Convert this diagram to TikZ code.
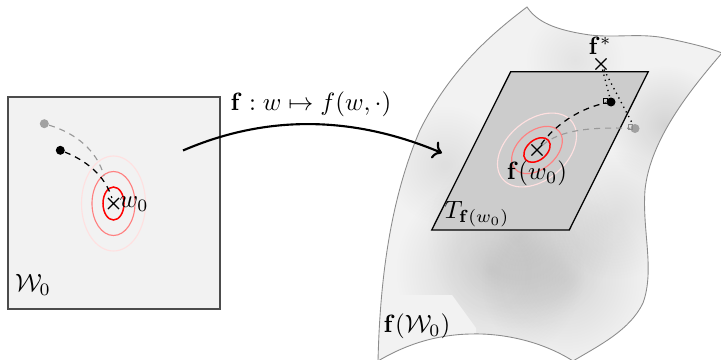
\documentclass[tikz,border=0pt]{standalone}
\usetikzlibrary{shapes.misc,fadings,arrows.meta}
\tikzfading[name=blobfade, inner color=transparent!0, outer color=transparent!100]
\newcommand{\surfpath}{(527,7) .. controls (537,22) and (555,30) .. (590,35) .. controls (615,38) and (640,33) .. (665,38) .. controls (690,43) and (710,48) .. (722,53) .. controls (690,90) and (650,140) .. (645,190) .. controls (642,230) and (655,270) .. (643,303) .. controls (630,330) and (600,345) .. (573,361) .. controls (540,340) and (500,333) .. (470,334) .. controls (430,335) and (400,348) .. (378,361) .. controls (380,280) and (390,200) .. (420,130) .. controls (450,70) and (490,35) .. (527,7) -- cycle}
\begin{document}
\begin{tikzpicture}[x=0.4pt,y=-0.4pt,
  blackdot/.style={circle, fill=black, inner sep=0pt, minimum size=3.6pt},
  graydot/.style={circle, fill=black!37, inner sep=0pt, minimum size=3.6pt},
  xmark/.style={draw, cross out, inner sep=0pt, minimum size=4pt, line width=0.45pt},
  blackdash/.style={dash pattern=on 2.4pt off 2pt, line width=0.5pt},
  graydash/.style={black!40, dash pattern=on 2.4pt off 2pt, line width=0.45pt},
  dotline/.style={dash pattern=on 0.5pt off 1.6pt, line width=0.55pt},
  lvl1/.style={red, line width=0.6pt},
  lvl2/.style={red!50, line width=0.45pt},
  lvl3/.style={red!12, line width=0.45pt},
  lbl/.style={inner sep=0pt},
  blob/.style={black, fill opacity=#1, path fading=blobfade}
]
\useasboundingbox (0,0) rectangle (721,360);

% ---------- left domain ----------
\draw[black!70, fill=black!5, line width=0.5pt] (8,97) rectangle (220,309);
\coordinate (w0) at (113.5,203.5);
\draw[lvl3] (w0) ellipse [x radius=32, y radius=47.5];
\draw[lvl2] (w0) ellipse [x radius=21.5, y radius=32];
\draw[lvl1] (w0) ellipse [x radius=10.5, y radius=16.5];
\node[graydot] (g1) at (44.3,123.7) {};
\node[blackdot] (b1) at (60.3,150.3) {};
\node[xmark] (w0x) at (w0) {};
\coordinate (g1end) at (104,176);
\draw[graydash] (g1) .. controls (75,133) and (97,150) .. (g1end);
\draw[blackdash] (b1) .. controls (85,160) and (105,175) .. (w0x);
\node[lbl, anchor=west] (w0lbl) at (119,204) {$w_0$};
\node[lbl] (Wlbl) at (33,285) {$\mathcal{W}_0$};

% ---------- right: image manifold ----------
\begin{scope}
  \clip \surfpath;
  \fill[black!5] (350,0) rectangle (730,370);
  \fill[blob=0.12] (490,270) circle [radius=95];
  \fill[blob=0.11] (565,280) circle [radius=85];
  \fill[blob=0.08] (520,235) circle [radius=95];
  \fill[blob=0.12] (665,125) circle [radius=60];
  \fill[blob=0.08] (445,165) circle [radius=60];
  \fill[blob=0.08] (615,215) circle [radius=65];
  \fill[blob=0.06] (575,60) circle [radius=50];
  \fill[black!5] (360,295) -- (452,295) -- (476,328) -- (476,370) -- (360,370) -- cycle;
\end{scope}
\draw[black!45, line width=0.35pt] \surfpath;

% tangent plane
\draw[fill=black!20, line width=0.5pt] (510.7,71.7) -- (648.3,71.7) -- (569.3,230) -- (431.7,230) -- cycle;
\coordinate (fw0c) at (537,150);
\begin{scope}[rotate around={40:(fw0c)}]
  \draw[lvl3] (fw0c) ellipse [x radius=45, y radius=30];
  \draw[lvl2] (fw0c) ellipse [x radius=29, y radius=19];
  \draw[lvl1] (fw0c) ellipse [x radius=15, y radius=10];
\end{scope}
\node[xmark] (fw0) at (fw0c) {};
\node[blackdot] (b2) at (611,102) {};
\node[graydot] (g2) at (635,128.5) {};
\node[xmark] (fstar) at (601,64) {};
\draw[graydash] (fw0) .. controls (560,130) and (590,127) .. (g2);
\draw[blackdash] (fw0) .. controls (555,125) and (580,108) .. (b2);
\draw[dotline] (fstar) -- (b2);
\draw[dotline] (fstar) -- (g2);
\draw[line width=0.3pt] (603,98) rectangle (607.5,103);
\draw[black!45, line width=0.3pt] (628.5,124.5) rectangle (632.5,129);
\node[lbl] (fstarlbl) at (600,46) {$\mathbf{f}^*$};
\node[lbl] (fw0lbl) at (537,173) {$\mathbf{f}(w_0)$};
\node[lbl] (Tlbl) at (477,214) {$T_{\mathbf{f}(w_0)}$};
\node[lbl] (fWlbl) at (417,326) {$\mathbf{f}(\mathcal{W}_0)$};

% ---------- mapping arrow ----------
\coordinate (astart) at (183,150.5);
\coordinate (aend) at (442,153);
\draw[->, line width=0.85pt] (astart) .. controls (266,114.7) and (352.3,115.3) .. (aend);
\node[lbl] (maplbl) at (311,104) {$\mathbf{f}:w\mapsto f(w,\cdot)$};
\end{tikzpicture}
\end{document}
